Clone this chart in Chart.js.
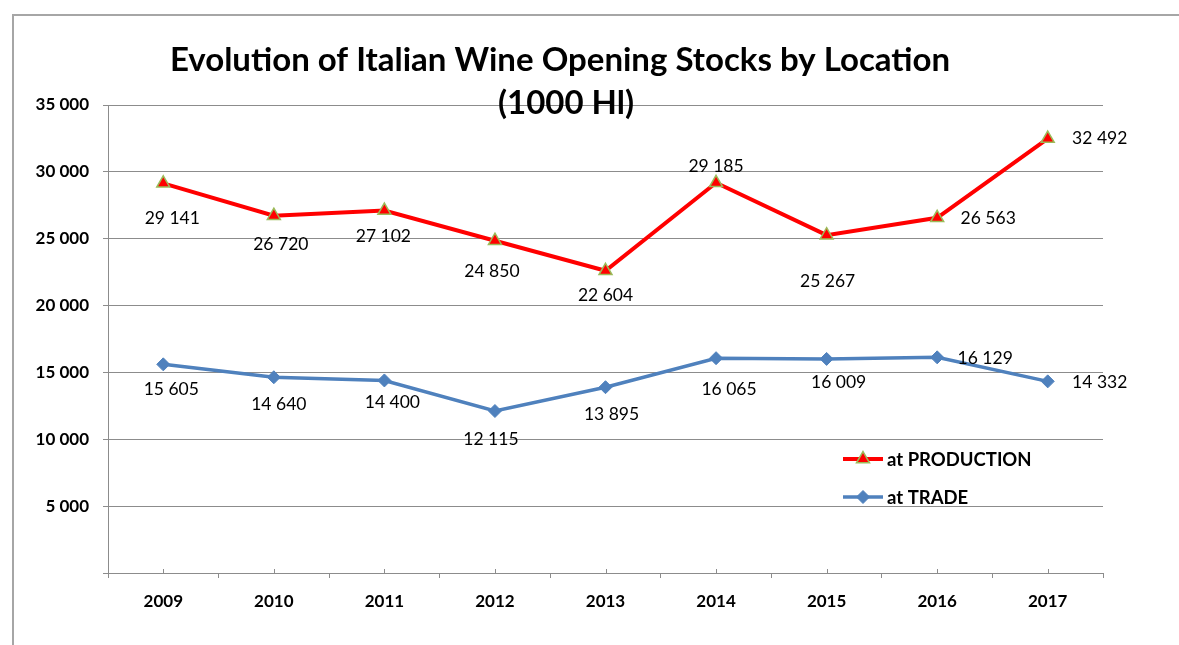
<!DOCTYPE html>
<html>
<head>
<meta charset="utf-8">
<script src="https://cdn.jsdelivr.net/npm/chart.js"></script>
<style>
  html, body { margin: 0; padding: 0; background: #fff; }
  #wrap { width: 1179px; height: 645px; position: relative; }
</style>
</head>
<body>
<div id="wrap"><canvas id="chart"></canvas></div>
<script>
const years = ['2009', '2010', '2011', '2012', '2013', '2014', '2015', '2016', '2017'];
const atProduction = [29141, 26720, 27102, 24850, 22604, 29185, 25267, 26563, 32492];
const atTrade = [15605, 14640, 14400, 12115, 13895, 16065, 16009, 16129, 14332];
const yTicks = [0, 5000, 10000, 15000, 20000, 25000, 30000, 35000];

// where each value label sits, relative to its point (dx, dy)
const productionLabelOffsets = [[9, 35], [7, 29], [-1, 26], [-3, 31], [0, 25], [0, -16], [1, 46], [51, 1], [52, 0]];
const tradeLabelOffsets = [[8, 25], [5, 27], [8, 22], [-4, 28], [6, 27], [13, 31], [12, 23], [48, 1], [52, 1]];

const FONT = 'Lato, "Open Sans", sans-serif';

// 35000 -> "35 000"
const fmt = v => String(v).replace(/\B(?=(\d{3})+(?!\d))/g, ' ');

// grey frame round the whole chart
const framePlugin = {
  id: 'frame',
  beforeDraw(chart) {
    const ctx = chart.ctx;
    ctx.save();
    ctx.strokeStyle = '#a6a6a6';
    ctx.lineWidth = 2;
    ctx.beginPath();
    ctx.moveTo(13, chart.height + 2);
    ctx.lineTo(13, 15);
    ctx.lineTo(chart.width + 2, 15);
    ctx.stroke();
    ctx.restore();
  }
};

// small tick marks at category centres on the x axis
const centreTicks = {
  id: 'centreTicks',
  afterDraw(chart) {
    const x = chart.scales.x, ctx = chart.ctx;
    ctx.save();
    ctx.strokeStyle = '#8c8c8c';
    ctx.lineWidth = 1;
    years.forEach((y, i) => {
      const px = Math.round(x.getPixelForValue(i)) + 0.5;
      ctx.beginPath();
      ctx.moveTo(px, chart.chartArea.bottom - 4);
      ctx.lineTo(px, chart.chartArea.bottom);
      ctx.stroke();
    });
    ctx.restore();
  }
};

// value labels next to each point
const valueLabels = {
  id: 'valueLabels',
  afterDatasetsDraw(chart) {
    const ctx = chart.ctx;
    const offsets = [productionLabelOffsets, tradeLabelOffsets];
    ctx.save();
    ctx.font = '17.5px ' + FONT;
    ctx.fillStyle = '#000';
    ctx.textAlign = 'center';
    ctx.textBaseline = 'middle';
    chart.data.datasets.forEach((ds, di) => {
      chart.getDatasetMeta(di).data.forEach((pt, i) => {
        const [dx, dy] = offsets[di][i];
        ctx.fillText(fmt(ds.data[i]), pt.x + dx, pt.y + dy);
      });
    });
    ctx.restore();
  }
};

// legend drawn inside the plot, lower right
const insideLegend = {
  id: 'insideLegend',
  afterDatasetsDraw(chart) {
    const ctx = chart.ctx, area = chart.chartArea;
    const x0 = area.right - 260;
    ctx.save();
    chart.data.datasets.forEach((ds, i) => {
      const y = area.bottom - 114 + i * 38;
      ctx.strokeStyle = ds.borderColor;
      ctx.lineWidth = ds.borderWidth;
      ctx.beginPath();
      ctx.moveTo(x0, y);
      ctx.lineTo(x0 + 40, y);
      ctx.stroke();
      ctx.fillStyle = ds.pointBackgroundColor;
      ctx.strokeStyle = ds.pointBorderColor;
      ctx.lineWidth = ds.pointBorderWidth;
      Chart.helpers.drawPoint(ctx, { pointStyle: ds.pointStyle, radius: ds.pointRadius, rotation: 0, borderWidth: ds.pointBorderWidth }, x0 + 20, y);
      ctx.fillStyle = '#000';
      ctx.font = 'bold 18.5px ' + FONT;
      ctx.textAlign = 'left';
      ctx.textBaseline = 'middle';
      ctx.fillText(ds.label, x0 + 44, y + 1);
    });
    ctx.restore();
  }
};

// two-line title, drawn over the top gridline as in the original
const overlayTitle = {
  id: 'overlayTitle',
  afterDraw(chart) {
    const ctx = chart.ctx;
    ctx.save();
    ctx.fillStyle = '#000';
    ctx.font = 'bold 33px ' + FONT;
    ctx.textAlign = 'center';
    ctx.textBaseline = 'middle';
    ctx.fillText('Evolution of Italian Wine Opening Stocks by Location', 560, 60);
    ctx.fillText('(1000 Hl)', 566, 103);
    ctx.restore();
  }
};

new Chart(document.getElementById('chart'), {
  type: 'line',
  data: {
    labels: years,
    datasets: [
      {
        label: 'at PRODUCTION',
        data: atProduction,
        borderColor: '#ff0000',
        borderWidth: 4,
        pointStyle: 'triangle',
        pointRadius: 7.5,
        pointBackgroundColor: '#ff0000',
        pointBorderColor: '#9bbb59',
        pointBorderWidth: 1.5,
        tension: 0
      },
      {
        label: 'at TRADE',
        data: atTrade,
        borderColor: '#4f81bd',
        borderWidth: 3.5,
        pointStyle: 'rectRot',
        pointRadius: 6.5,
        pointBackgroundColor: '#4f81bd',
        pointBorderColor: '#4f81bd',
        pointBorderWidth: 1,
        tension: 0
      }
    ]
  },
  options: {
    responsive: true,
    maintainAspectRatio: false,
    animation: false,
    layout: { padding: { top: 105, right: 76, left: 0, bottom: 0 } },
    plugins: {
      legend: { display: false },
      title: { display: false },
      tooltip: { enabled: false }
    },
    scales: {
      x: {
        offset: true,
        afterFit(scale) { scale.height = 72; },
        grid: {
          offset: true,
          drawOnChartArea: false,
          tickLength: 5,
          color: '#8c8c8c'
        },
        border: { color: '#8c8c8c', width: 1 },
        ticks: {
          padding: 13,
          color: '#000',
          font: { family: FONT, size: 17, weight: 'bold' }
        }
      },
      y: {
        min: 0,
        max: 35000,
        afterFit(scale) { scale.width = 108; },
        afterBuildTicks(scale) { scale.ticks = yTicks.map(v => ({ value: v })); },
        grid: { color: '#8c8c8c', tickLength: 5 },
        border: { color: '#8c8c8c', width: 1 },
        ticks: {
          padding: 14,
          color: '#000',
          font: { family: FONT, size: 17, weight: 'bold' },
          callback: v => (v === 0 ? '' : fmt(v))
        }
      }
    }
  },
  plugins: [framePlugin, centreTicks, valueLabels, insideLegend, overlayTitle]
});
</script>
</body>
</html>
